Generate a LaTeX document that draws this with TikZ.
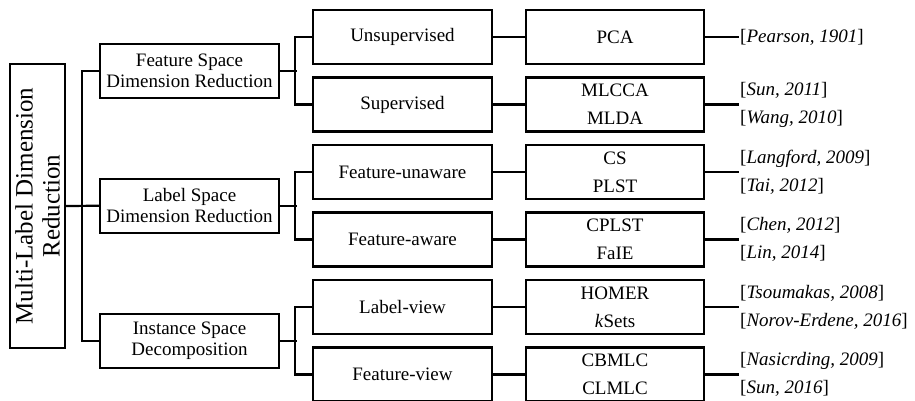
\documentclass[tikz,border=0pt]{standalone}
\usepackage{fontspec}
\setmainfont{Liberation Serif}
\usepackage{tikz}

\tikzset{
  box/.style={draw, line width=2.2pt, minimum width=179pt, minimum height=54pt,
              inner sep=2pt, align=center, font=\fontsize{19}{21}\selectfont},
  leaf/.style={box, minimum width=178pt, font=\fontsize{19}{28}\selectfont},
  cite/.style={anchor=west, inner sep=1pt, align=left, font=\fontsize{19}{28}\selectfont},
  link/.style={line width=2.2pt}
}

\begin{document}
\begin{tikzpicture}[x=1pt,y=-1pt]
\useasboundingbox (0,0) rectangle (915,401);

    \node[box, rotate=90, minimum width=284pt, minimum height=55pt,
          font=\fontsize{25}{27}\selectfont] (mldr) at (37.5,206)
          {Multi-Label Dimension\\Reduction};

    \node[box] (fsdr) at (189.5,70.75) {Feature Space\\Dimension Reduction};
    \node[box] (lsdr) at (189.5,205.75) {Label Space\\Dimension Reduction};
    \node[box] (isd)  at (189.5,340.75) {Instance Space\\Decomposition};

    \node[box] (unsup)    at (402.5,37)    {Unsupervised};
    \node[box] (sup)      at (402.5,104.5) {Supervised};
    \node[box] (funaware) at (402.5,172)   {Feature-unaware};
    \node[box] (faware)   at (402.5,239.5) {Feature-aware};
    \node[box] (lview)    at (402.5,307)   {Label-view};
    \node[box] (fview)    at (402.5,374.5) {Feature-view};

    \node[leaf] (pca)   at (615,37)    {PCA};
    \node[leaf] (mlcca) at (615,104.5) {MLCCA\\MLDA};
    \node[leaf] (cs)    at (615,172)   {CS\\PLST};
    \node[leaf] (cplst) at (615,239.5) {CPLST\\FaIE};
    \node[leaf] (homer) at (615,307)   {HOMER\\\textit{k}Sets};
    \node[leaf] (cbmlc) at (615,374.5) {CBMLC\\CLMLC};

    \node[cite] (refpca)   at (739,37)    {[\textit{Pearson, 1901}]};
    \node[cite] (refmlcca) at (739,104.5) {[\textit{Sun, 2011}]\\[0pt][\textit{Wang, 2010}]};
    \node[cite] (refcs)    at (739,172)   {[\textit{Langford, 2009}]\\[0pt][\textit{Tai, 2012}]};
    \node[cite] (refcplst) at (739,239.5) {[\textit{Chen, 2012}]\\[0pt][\textit{Lin, 2014}]};
    \node[cite] (refhomer) at (739,307)   {[\textit{Tsoumakas, 2008}]\\[0pt][\textit{Norov-Erdene, 2016}]};
    \node[cite] (refcbmlc) at (739,374.5) {[\textit{Nasicrding, 2009}]\\[0pt][\textit{Sun, 2016}]};

    % tree lines
    \draw[link] (mldr.south) -- (lsdr.west);
    \draw[link] (fsdr.west) -- ++(-17,0) |- (isd.west);

    \draw[link] (unsup.west) -- ++(-17,0) |- (sup.west);
    \draw[link] (funaware.west) -- ++(-17,0) |- (faware.west);
    \draw[link] (lview.west) -- ++(-17,0) |- (fview.west);
    \draw[link] (fsdr.east) -- ++(17,0);
    \draw[link] (lsdr.east) -- ++(17,0);
    \draw[link] (isd.east) -- ++(17,0);

    \foreach \a/\b in {unsup/pca, sup/mlcca, funaware/cs, faware/cplst, lview/homer, fview/cbmlc}
        \draw[link] (\a.east) -- (\b.west);
    \foreach \a in {pca, mlcca, cs, cplst, homer, cbmlc}
        \draw[link] (\a.east) -- (ref\a.west);
\end{tikzpicture}
\end{document}
